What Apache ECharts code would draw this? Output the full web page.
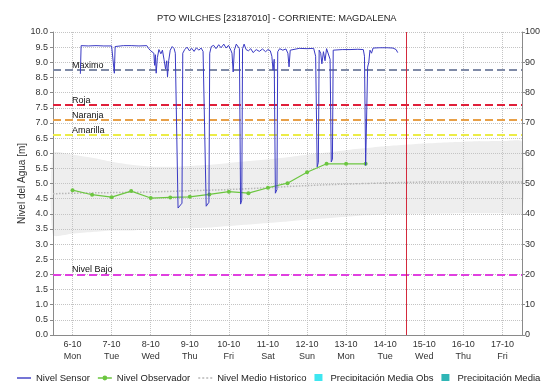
<!DOCTYPE html>
<html>
<head>
<meta charset="utf-8">
<script src="https://cdn.jsdelivr.net/npm/echarts@6/dist/echarts.min.js"></script>
<style>
  html, body { margin: 0; padding: 0; background: #ffffff; }
  #chart { width: 543px; height: 381px; }
</style>
</head>
<body>
<div id="chart"></div>
<script>
// Day ticks along the time axis (day of October) and their labels
const dayTicks = [6, 7, 8, 9, 10, 11, 12, 13, 14, 15, 16, 17];
const dayLabels = ['6-10\nMon', '7-10\nTue', '8-10\nWed', '9-10\nThu', '10-10\nFri', '11-10\nSat',
                   '12-10\nSun', '13-10\nMon', '14-10\nTue', '15-10\nWed', '16-10\nThu', '17-10\nFri'];

// Sensor level [day, metres]
const sensorLevel = [
  [6.20, 8.62], [6.22, 9.55], [6.40, 9.54], [6.60, 9.55], [6.80, 9.54], [7.00, 9.54],
  [7.05, 9.52], [7.07, 8.64], [7.09, 9.52], [7.30, 9.55], [7.50, 9.55], [7.70, 9.54],
  [7.90, 9.55], [7.95, 9.45], [8.00, 9.38], [8.04, 9.40], [8.08, 9.30], [8.10, 8.90],
  [8.12, 9.25], [8.14, 8.64], [8.17, 9.15], [8.21, 9.42], [8.26, 9.28], [8.30, 9.40],
  [8.34, 9.10], [8.38, 8.78], [8.41, 9.05], [8.43, 8.52], [8.46, 9.05], [8.50, 9.40],
  [8.55, 9.52], [8.60, 9.45], [8.63, 9.30], [8.70, 4.19], [8.80, 4.35], [8.82, 9.30],
  [8.87, 9.42], [8.93, 9.50], [8.99, 9.38], [9.05, 9.46], [9.11, 9.36], [9.17, 9.48],
  [9.23, 9.40], [9.29, 9.47], [9.34, 9.36], [9.39, 9.30], [9.42, 4.25], [9.49, 4.38],
  [9.51, 9.30], [9.55, 9.52], [9.61, 9.56], [9.67, 9.45], [9.74, 9.58], [9.80, 9.48],
  [9.87, 9.60], [9.93, 9.47], [9.99, 9.56], [10.05, 9.40], [10.08, 9.30], [10.11, 8.68],
  [10.14, 9.40], [10.19, 9.60], [10.24, 9.55], [10.27, 9.45], [10.30, 4.32], [10.33, 4.45],
  [10.35, 9.45], [10.39, 9.60], [10.44, 9.42], [10.50, 9.38], [10.56, 9.45], [10.62, 9.32],
  [10.70, 9.42], [10.78, 9.36], [10.86, 9.44], [10.94, 9.35], [11.00, 9.42], [11.06, 9.38],
  [11.10, 9.20], [11.13, 8.74], [11.16, 9.10], [11.19, 4.68], [11.23, 4.80], [11.25, 9.35],
  [11.30, 9.45], [11.38, 9.40], [11.46, 9.44], [11.51, 9.30], [11.54, 8.85], [11.57, 9.40],
  [11.62, 9.46], [11.80, 9.46], [12.00, 9.45], [12.17, 9.46], [12.22, 9.20], [12.26, 5.55],
  [12.29, 5.70], [12.31, 9.40], [12.35, 9.30], [12.38, 8.95], [12.42, 9.35], [12.46, 9.05],
  [12.50, 9.45], [12.55, 9.40], [12.59, 9.10], [12.62, 5.71], [12.65, 5.80], [12.67, 9.40],
  [12.72, 9.43], [12.90, 9.42], [13.10, 9.42], [13.30, 9.43], [13.44, 9.42], [13.47, 9.20],
  [13.50, 5.60], [13.53, 5.65], [13.55, 8.84], [13.58, 9.00], [13.61, 9.40], [13.65, 9.30],
  [13.69, 9.47], [13.85, 9.48], [14.05, 9.48], [14.20, 9.47], [14.28, 9.42], [14.32, 9.32]
];

// Observer readings, twice a day
const obsDays  = [6.0, 6.5, 7.0, 7.5, 8.0, 8.5, 9.0, 9.5, 10.0, 10.5, 11.0, 11.5, 12.0, 12.5, 13.0, 13.5];
const obsLevel = [4.78, 4.63, 4.55, 4.75, 4.52, 4.54, 4.56, 4.64, 4.73, 4.68, 4.86, 5.01, 5.37, 5.65, 5.65, 5.65];

// Historic statistics
const histDays  = [5.5, 6.0, 6.5, 7.0, 7.5, 8.0, 8.5, 9.0, 9.5, 10.0, 10.5, 11.0, 11.5, 12.0, 12.5, 13.0, 13.5, 14.0, 15.0, 16.0, 17.0, 17.5];
const histUpper = [6.00, 5.95, 5.85, 5.72, 5.62, 5.56, 5.55, 5.58, 5.62, 5.68, 5.74, 5.80, 5.87, 5.95, 6.02, 6.10, 6.17, 6.23, 6.32, 6.38, 6.40, 6.38];
const histLower = [3.30, 3.35, 3.40, 3.45, 3.45, 3.50, 3.50, 3.52, 3.55, 3.60, 3.65, 3.70, 3.75, 3.80, 3.85, 3.90, 3.95, 3.98, 4.00, 4.02, 4.02, 4.02];
const histMean  = [4.66, 4.68, 4.69, 4.70, 4.71, 4.72, 4.74, 4.76, 4.78, 4.80, 4.83, 4.86, 4.90, 4.93, 4.96, 4.98, 5.00, 5.02, 5.05, 5.05, 5.05, 5.05];

// Alert thresholds [m]
const thresholdNames  = ['Maximo', 'Roja', 'Naranja', 'Amarilla', 'Nivel Bajo'];
const thresholdValues = [8.75, 7.6, 7.1, 6.6, 2.0];
const thresholdColors = ['#7f8aa6', '#e0203a', '#e8a048', '#ecec48', '#e040e0'];

// Current time marker (day)
const nowDay = 14.54;

// Precipitation (no values in this window)
const precipObs = [];
const precipForecast = [];

const FONT = "'Liberation Sans', Arial, sans-serif";
const pair = (xs, ys) => xs.map((x, i) => [x, ys[i]]);

// Legend glyphs
const ICON_SQUARE = 'path://M0,0L10,0L10,10L0,10Z';
const ICON_LINE   = 'path://M0,4.3L14,4.3L14,5.7L0,5.7Z';
const ICON_DOT    = 'path://M0,4.3L14,4.3L14,5.7L0,5.7Z M7,2.6A2.4,2.4,0,1,1,6.99,2.6Z';
const ICON_DOTTED = 'path://M0,4.3h2v1.4h-2zM4,4.3h2v1.4h-2zM8,4.3h2v1.4h-2zM12,4.3h2v1.4h-2z';

const chart = echarts.init(document.getElementById('chart'), null, { renderer: 'canvas' });

const option = {
  animation: false,
  backgroundColor: '#ffffff',
  textStyle: { fontFamily: FONT },
  title: {
    text: 'PTO WILCHES [23187010] - CORRIENTE: MAGDALENA',
    left: 152, top: 9,
    textStyle: { fontFamily: FONT, fontSize: 9.3, fontWeight: 'normal', color: '#222' }
  },
  grid: { left: 53, right: 18, top: 32, bottom: 46 },
  legend: {
    left: 12, top: 368, width: 1200,
    itemWidth: 14, itemHeight: 8, itemGap: 8,
    textStyle: { fontFamily: FONT, fontSize: 9.5, color: '#222' },
    data: [
      { name: 'Nivel Sensor', icon: ICON_LINE, itemStyle: { color: '#3a3ac4', borderWidth: 0 }, lineStyle: { width: 0 } },
      { name: 'Nivel Observador', icon: ICON_DOT, itemStyle: { color: '#6cc640', borderWidth: 0 }, lineStyle: { width: 0 } },
      { name: 'Nivel Medio Historico', icon: ICON_DOTTED, itemStyle: { color: '#b8b8b8', borderWidth: 0 }, lineStyle: { width: 0 } },
      { name: 'Precipitación Media Obs', icon: ICON_SQUARE },
      { name: 'Precipitación Media Pronosticada', icon: ICON_SQUARE }
    ]
  },
  xAxis: {
    type: 'value', min: 5.5, max: 17.5,
    axisLine: { show: true, onZero: false, lineStyle: { color: '#8a8a8a' } },
    axisTick: { show: false, customValues: dayTicks },
    axisLabel: {
      customValues: dayTicks,
      formatter: v => dayLabels[dayTicks.indexOf(Math.round(v))],
      fontFamily: FONT, fontSize: 9, color: '#333', lineHeight: 12, margin: 4
    },
    splitLine: { show: true, lineStyle: { type: 'dotted', color: '#c4c4c4' } }
  },
  yAxis: [
    {
      type: 'value', min: 0, max: 10, interval: 0.5,
      name: 'Nivel del Agua [m]', nameLocation: 'middle', nameGap: 26, nameMoveOverlap: false,
      nameTextStyle: { fontFamily: FONT, fontSize: 10, color: '#333' },
      axisLine: { show: true, lineStyle: { color: '#8a8a8a' } },
      axisTick: { show: true, length: 3, lineStyle: { color: '#8a8a8a' } },
      axisLabel: { formatter: v => v.toFixed(1), fontFamily: FONT, fontSize: 9, color: '#333', margin: 5 },
      splitLine: { show: true, lineStyle: { type: 'dotted', color: '#c4c4c4' } }
    },
    {
      type: 'value', min: 0, max: 100, interval: 10, position: 'right',
      axisLine: { show: true, lineStyle: { color: '#8a8a8a' } },
      axisTick: { show: true, length: 3, lineStyle: { color: '#8a8a8a' } },
      axisLabel: { fontFamily: FONT, fontSize: 9, color: '#333', margin: 3 },
      splitLine: { show: false }
    }
  ],
  series: [
    {
      // historic range band, drawn under the grid lines
      name: 'histBand', type: 'custom', silent: true, z: -1,
      data: [[histDays[0], histLower[0]]],
      renderItem: (params, api) => {
        const top = histDays.map((d, i) => api.coord([d, histUpper[i]]));
        const bottom = histDays.map((d, i) => api.coord([d, histLower[i]])).reverse();
        return {
          type: 'polygon',
          shape: { points: top.concat(bottom), smooth: 0.2 },
          style: { fill: '#eeeeee' }
        };
      }
    },
    {
      name: 'Nivel Medio Historico', type: 'line', z: 2,
      data: pair(histDays, histMean), symbol: 'none',
      lineStyle: { color: '#b8b8b8', width: 1.5, type: 'dotted' },
      itemStyle: { color: '#b8b8b8' }
    },
    {
      name: 'thresholds', type: 'line', data: [], z: 3, silent: true,
      markLine: {
        silent: true, symbol: 'none', animation: false,
        data: thresholdValues.map((v, i) => ({
          yAxis: v,
          lineStyle: { color: thresholdColors[i], width: 2, type: [8, 4] },
          label: {
            show: true, formatter: thresholdNames[i], position: 'insideStartTop',
            distance: [19, 0], fontFamily: FONT, fontSize: 9, color: '#111'
          }
        }))
      }
    },
    {
      name: 'Nivel Observador', type: 'line', z: 4,
      data: pair(obsDays, obsLevel),
      symbol: 'circle', symbolSize: 4, showSymbol: true,
      lineStyle: { color: '#6cc640', width: 1.2 },
      itemStyle: { color: '#6cc640' }
    },
    {
      name: 'Nivel Sensor', type: 'line', z: 5,
      data: sensorLevel, symbol: 'none',
      lineStyle: { color: '#3a3ac4', width: 1 },
      itemStyle: { color: '#3a3ac4' }
    },
    {
      name: 'nowMarker', type: 'line', data: [], z: 6, silent: true,
      markLine: {
        silent: true, symbol: 'none', animation: false,
        label: { show: false },
        lineStyle: { color: '#d42a3c', width: 1, type: 'solid' },
        data: [{ xAxis: nowDay }]
      }
    },
    {
      name: 'Precipitación Media Obs', type: 'bar', yAxisIndex: 1,
      data: precipObs, itemStyle: { color: '#3ee6f0' }
    },
    {
      name: 'Precipitación Media Pronosticada', type: 'bar', yAxisIndex: 1,
      data: precipForecast, itemStyle: { color: '#2fb6b6' }
    }
  ]
};

chart.setOption(option);
</script>
</body>
</html>
